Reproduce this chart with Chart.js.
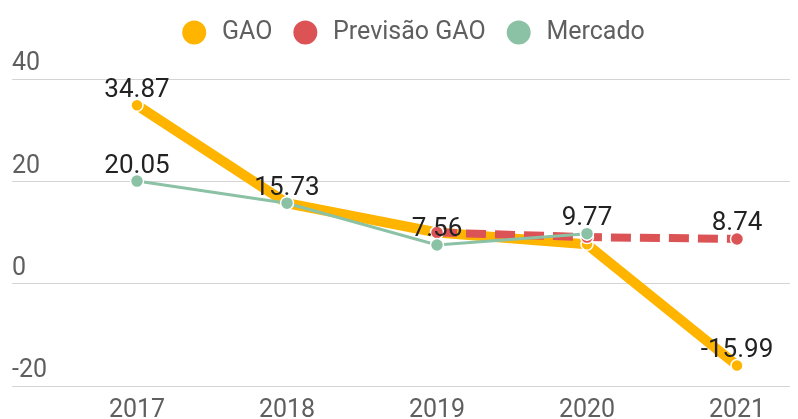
<!DOCTYPE html>
<html>
<head>
<meta charset="utf-8">
<script src="https://cdn.jsdelivr.net/npm/chart.js@4.4.1/dist/chart.umd.min.js"></script>
<style>
  html, body { margin: 0; padding: 0; background: #fff; }
  #wrap { width: 798px; height: 419px; }
</style>
</head>
<body>
<div id="wrap"><canvas id="chart"></canvas></div>
<script>
  const anos = ['2017', '2018', '2019', '2020', '2021'];
  const gao = [34.87, 15.73, 10.0, 7.7, -15.99];
  const previsaoGao = [null, null, 10.0, 9.1, 8.74];
  const mercado = [20.05, 15.73, 7.56, 9.77, null];
  const yTicks = [-20, 0, 20, 40];

  // quais pontos levam rótulo
  const gaoRotulos = [true, false, false, false, true];
  const previsaoRotulos = [false, false, false, false, true];
  const mercadoRotulos = [true, true, true, true, false];

  const FONT = 'Roboto, "Noto Sans", Arial, sans-serif';

  const valueLabelPlugin = {
    id: 'valueLabelPlugin',
    afterDatasetsDraw(chart) {
      const { ctx } = chart;
      ctx.save();
      ctx.font = '26px ' + FONT;
      ctx.fillStyle = '#222';
      ctx.textAlign = 'center';
      ctx.textBaseline = 'bottom';
      chart.data.datasets.forEach((ds, di) => {
        const meta = chart.getDatasetMeta(di);
        if (meta.hidden) return;
        meta.data.forEach((pt, i) => {
          const v = ds.data[i].y;
          if (v == null || !ds.rotulos[i]) return;
          ctx.fillText(v.toFixed(2), pt.x, pt.y - 2);
        });
      });
      ctx.restore();
    }
  };

  // espaço extra entre legenda e área do gráfico + leve deslocamento à direita
  const legendSpacer = {
    id: 'legendSpacer',
    beforeInit(chart) {
      const fit = chart.legend.fit;
      chart.legend.fit = function () {
        fit.call(this);
        this.height += 24;
      };
    },
    afterLayout(chart) {
      chart.legend.left += 10;
      chart.legend.right += 10;
    }
  };

  const toXY = (arr) => arr.map((v, i) => ({ x: i, y: v }));

  new Chart(document.getElementById('chart'), {
    type: 'line',
    data: {
      datasets: [
        {
          label: 'GAO', data: toXY(gao), rotulos: gaoRotulos, order: 3,
          borderColor: '#ffb400', backgroundColor: '#ffb400', borderWidth: 10,
          pointRadius: 6, pointBorderColor: '#fff', pointBorderWidth: 1.5,
          pointBackgroundColor: '#ffb400', tension: 0
        },
        {
          label: 'Previsão GAO', data: toXY(previsaoGao), rotulos: previsaoRotulos, order: 2,
          borderColor: '#dc5356', backgroundColor: '#dc5356', borderWidth: 8, borderDash: [20, 9],
          pointRadius: 6.5, pointBorderColor: '#fff', pointBorderWidth: 1.5,
          pointBackgroundColor: '#dc5356', tension: 0
        },
        {
          label: 'Mercado', data: toXY(mercado), rotulos: mercadoRotulos, order: 1,
          borderColor: '#8bc2a5', backgroundColor: '#8bc2a5', borderWidth: 3,
          pointRadius: 6.5, pointBorderColor: '#fff', pointBorderWidth: 1.5,
          pointBackgroundColor: '#8bc2a5', tension: 0
        }
      ]
    },
    options: {
      responsive: true,
      maintainAspectRatio: false,
      animation: false,
      layout: { padding: { left: 12, right: 0, top: -4, bottom: 0 } },
      plugins: {
        legend: {
          display: true, position: 'top',
          labels: {
            usePointStyle: true, pointStyle: 'circle', boxWidth: 18, boxHeight: 18,
            color: '#5f5f5f', font: { family: FONT, size: 25 }, padding: 24,
            sort: (a, b) => a.datasetIndex - b.datasetIndex,
            generateLabels: (chart) => Chart.defaults.plugins.legend.labels.generateLabels(chart)
              .map(item => ({ ...item, text: ' ' + item.text }))
          }
        },
        tooltip: { enabled: false }
      },
      scales: {
        x: {
          type: 'linear',
          min: -0.8333, max: 4.3533,
          afterBuildTicks: (scale) => { scale.ticks = anos.map((_, i) => ({ value: i })); },
          afterFit: (scale) => { scale.height = 33; },
          grid: { display: false, drawTicks: false },
          border: { display: false },
          ticks: {
            callback: (v) => anos[v] ?? '',
            color: '#5f5f5f', font: { family: FONT, size: 25, lineHeight: 0.4 }, padding: 20,
            maxRotation: 0, autoSkip: false
          }
        },
        y: {
          min: -20, max: 40,
          afterBuildTicks: (scale) => { scale.ticks = yTicks.map(v => ({ value: v })); },
          border: { display: false },
          grid: { color: '#d4d4d4', lineWidth: 1, drawTicks: false },
          ticks: {
            mirror: true, padding: 0, labelOffset: -15,
            color: '#5f5f5f', font: { family: FONT, size: 25, lineHeight: 0.4 }
          }
        }
      }
    },
    plugins: [valueLabelPlugin, legendSpacer]
  });
</script>
</body>
</html>
